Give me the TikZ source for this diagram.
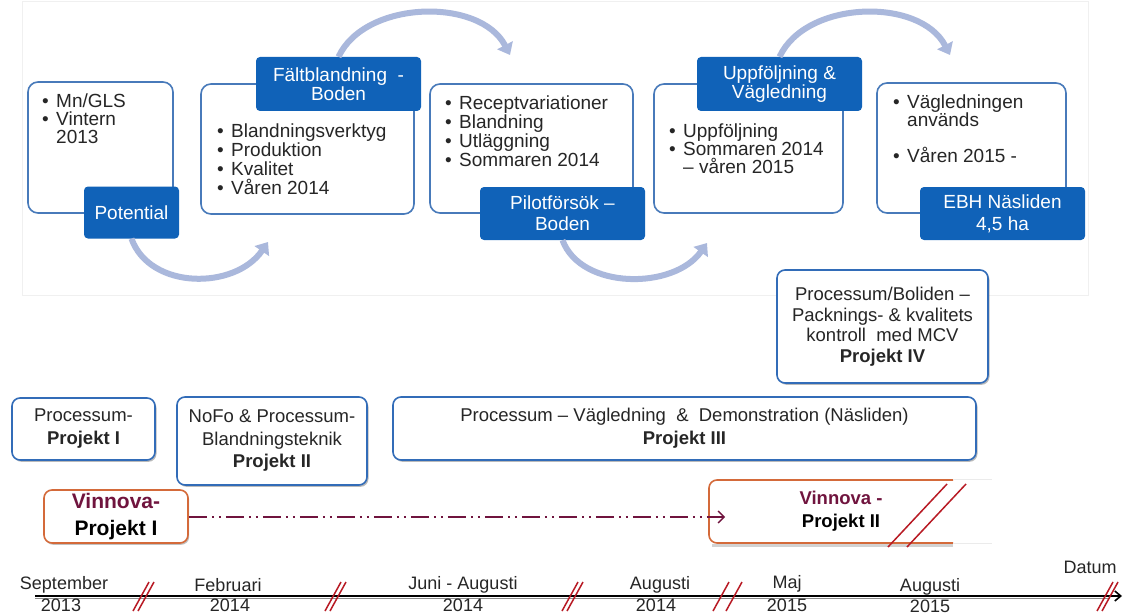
\documentclass[tikz,border=0pt]{standalone}
\usepackage{fontspec}
\setmainfont{Liberation Sans}
\usetikzlibrary{arrows.meta,shadows}
\definecolor{tabblue}{RGB}{16,98,184}
\definecolor{boxblue}{RGB}{72,122,186}
\definecolor{boxblueB}{RGB}{50,108,184}
\definecolor{lavender}{RGB}{170,184,220}
\definecolor{vorange}{RGB}{212,106,58}
\definecolor{maroon}{RGB}{112,20,62}
\definecolor{slashred}{RGB}{184,26,36}
\newcommand\bl{\makebox[14pt][l]{•}}
\newcommand\nb{\hspace*{14pt}}
\tikzset{
 pbox/.style={draw=boxblue, line width=1.6pt, rounded corners=10pt, fill=white, inner sep=0pt},
 ptab/.style={fill=tabblue, rounded corners=4pt, text=white, align=center, inner sep=0pt},
 btxt/.style={anchor=north west, align=left, inner sep=0pt, font=\fontsize{19}{19}\selectfont, text=black!85},
 cyc/.style={draw=lavender, line width=6pt, -{Triangle[length=11pt,width=17pt]}},
 qbox/.style={draw=boxblueB, line width=1.6pt, rounded corners=8pt, fill=white, align=center, inner sep=0pt, text=black!85,
   drop shadow={shadow xshift=1.5pt, shadow yshift=-1.8pt, fill=black!60, opacity=0.45}},
 vbox/.style={draw=vorange, line width=1.6pt, rounded corners=8pt, fill=white, align=center, inner sep=0pt,
   drop shadow={shadow xshift=1.2pt, shadow yshift=-1.8pt, fill=black!60, opacity=0.4}},
 vdash/.style={draw=maroon, line width=1.3pt, dash pattern=on 18pt off 5pt on 2pt off 5pt on 2pt off 5pt, -{Straight Barb[length=6pt,width=12pt]}},
 slash/.style={draw=slashred, line width=1.5pt},
 axlab/.style={inner sep=0pt, font=\fontsize{18}{18}\selectfont, text=black!85},
}
\begin{document}
\begin{tikzpicture}[x=1pt,y=-1pt]
\useasboundingbox (0,0) rectangle (1123,615);
\fill[white] (0,0) rectangle (1123,615);
% top panel
\draw[black!6, fill=white] (22,1) rectangle (1088,295);

\coordinate (e1) at (268,242);
\coordinate (e2) at (510,55);
\coordinate (e3) at (707,243);
\coordinate (e4) at (950,55);

% boxes
\node[pbox, minimum width=145pt, minimum height=131pt] (b1) at (100.5,147.5) {};
\node[pbox, minimum width=213pt, minimum height=130pt] (b2) at (307.5,149) {};
\node[pbox, minimum width=203pt, minimum height=129pt] (b3) at (531.5,148.5) {};
\node[pbox, minimum width=189pt, minimum height=129pt] (b4) at (748.5,148.5) {};
\node[pbox, minimum width=189pt, minimum height=130pt] (b5) at (971.5,148) {};

% tabs
\node[ptab, minimum width=95pt, minimum height=52pt, font=\fontsize{19}{19}\selectfont] (t1) at (131.5,212.5) {Potential};
\node[ptab, minimum width=165pt, minimum height=54pt, font=\fontsize{19}{17}\selectfont] (t2) at (338.5,84) {Fältblandning\ \ -\\Boden};
\node[ptab, minimum width=165pt, minimum height=53pt, font=\fontsize{19}{21}\selectfont] (t3) at (562.5,213.5) {Pilotförsök –\\Boden};
\node[ptab, minimum width=165pt, minimum height=54pt, font=\fontsize{19}{17}\selectfont] (t4) at (779.5,84) {Uppföljning \&\\Vägledning};
\node[ptab, minimum width=165pt, minimum height=53pt, font=\fontsize{19}{22}\selectfont] (t5) at (1002.5,213.5) {EBH Näsliden\\4,5 ha};

\draw[cyc] (t1.south) .. controls (150,290) and (235,290) .. (e1);
\draw[cyc] (t2.north) .. controls (365,0) and (480,-3) .. (e2);
\draw[cyc] (t3.south) .. controls (581,290) and (674,290) .. (e3);
\draw[cyc] (t4.north) .. controls (806,0) and (920,-3) .. (e4);

% box texts
\node[btxt, font=\fontsize{19}{18}\selectfont] (x1) at (42,94) {\bl Mn/GLS\\ \bl Vintern\\ \nb 2013};
\node[btxt] (x2) at (217,124) {\bl Blandningsverktyg\\ \bl Produktion\\ \bl Kvalitet\\ \bl Våren 2014};
\node[btxt] (x3) at (445,96) {\bl Receptvariationer\\ \bl Blandning\\ \bl Utläggning\\ \bl Sommaren 2014};
\node[btxt, font=\fontsize{19}{18}\selectfont] (x4) at (669,124) {\bl Uppföljning\\ \bl Sommaren 2014\\ \nb – våren 2015};
\node[btxt, font=\fontsize{19}{18}\selectfont] (x5) at (893,95) {\bl Vägledningen\\ \nb används\\[18pt] \bl Våren 2015 -};

% project boxes
\node[qbox, minimum width=211pt, minimum height=113pt, font=\fontsize{18.5}{20.5}\selectfont] (p4) at (882.5,326.5)
  {Processum/Boliden –\\Packnings- \& kvalitets\\kontroll\ \ med MCV\\\textbf{Projekt IV}};
\node[qbox, minimum width=143pt, minimum height=62pt, font=\fontsize{18.5}{23}\selectfont] (p1) at (83.5,429)
  {Processum-\\\textbf{Projekt I}};
\node[qbox, minimum width=190pt, minimum height=88pt, font=\fontsize{18.5}{22.5}\selectfont] (p2) at (272,441)
  {NoFo \& Processum-\\Blandningsteknik\\\textbf{Projekt II}};
\node[qbox, minimum width=583pt, minimum height=63pt, font=\fontsize{18.5}{23}\selectfont] (p3) at (684.5,428.5)
  {Processum – Vägledning\ \ \&\ \ Demonstration (Näsliden)\\\textbf{Projekt III}};

% Vinnova I
\node[vbox, minimum width=144pt, minimum height=53pt, font=\fontsize{21}{27}\selectfont\bfseries] (v1) at (116,516.5)
  {\textcolor{maroon}{Vinnova-}\\Projekt I};

% Vinnova II
\fill[black!50, opacity=0.35] (712,544) -- (953,544) -- (953,546.5) -- (712,546.5) -- cycle;
\draw[vorange, line width=1.6pt, rounded corners=8pt, fill=white] (953,480) -- (709,480) -- (709,543) -- (953,543);
\draw[black!8, line width=0.8pt] (953,479.5) -- (992,479.5);
\draw[black!8, line width=0.8pt] (953,543.5) -- (992,543.5);
\node[inner sep=0pt, align=center, font=\fontsize{18.5}{23}\selectfont\bfseries] (v2) at (841,511.5)
  {\textcolor{maroon}{Vinnova -}\\Projekt II};
\coordinate (s1a) at (888,547); \coordinate (s1b) at (947,484);
\coordinate (s2a) at (907,547); \coordinate (s2b) at (966,484);
\draw[slash] (s1a) -- (s1b);
\draw[slash] (s2a) -- (s2b);

% dash-dot arrow
\coordinate (ve) at (725,517);
\draw[vdash] (v1.east |- ve) -- (ve);

% timeline
\coordinate (ax0) at (35,596);
\coordinate (ax1) at (1122,596);
\draw[black!45, line width=1pt] (35,598) -- (1110,598);
\draw[black, line width=1.6pt, -{Straight Barb[length=6pt,width=10pt]}] (ax0) -- (ax1);

\node[axlab] (l1) at (64,585) {September};
\node[axlab] (y1) at (61,605) {2013};
\node[axlab] (l2) at (228,585) {Februari};
\node[axlab] (y2) at (230,605) {2014};
\node[axlab] (l3) at (463,585) {Juni - Augusti};
\node[axlab] (y3) at (463,605) {2014};
\node[axlab] (l4) at (660,585) {Augusti};
\node[axlab] (y4) at (656,605) {2014};
\node[axlab] (l5) at (787,584) {Maj};
\node[axlab] (y5) at (787,605) {2015};
\node[axlab] (l6) at (930,587) {Augusti};
\node[axlab] (y6) at (930,606) {2015};
\node[axlab] (l7) at (1090,567) {Datum};

% break marks
\foreach \x/\d in {133/5, 325/5, 562/5, 713/13, 1097/5}{
  \draw[slash] (\x,611) -- ++(16,-29);
  \draw[slash] (\x+\d,611) -- ++(16,-29);
}
\end{tikzpicture}
\end{document}
